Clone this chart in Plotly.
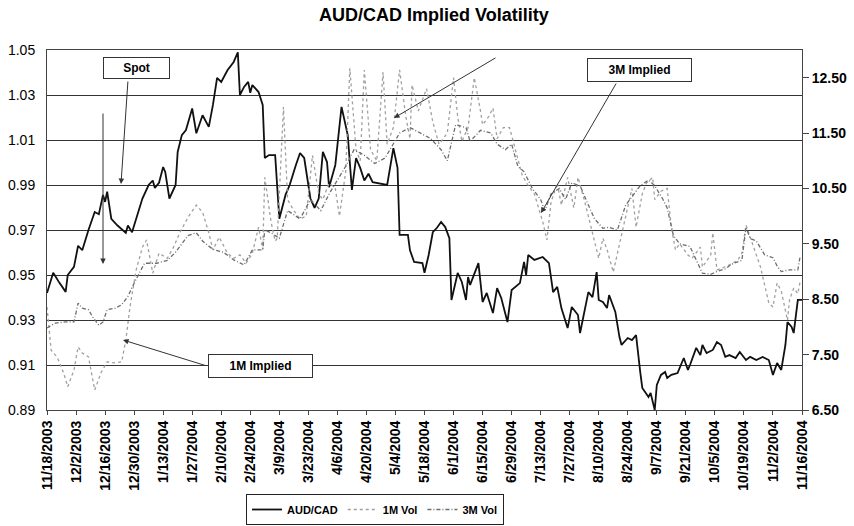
import pandas as pd
import plotly.graph_objects as go

# ---- data -------------------------------------------------------------
START = pd.Timestamp("2003-11-18")

# AUD/CAD spot: days after 11/18/2003 and level
spot_days = [0, 3, 6, 9, 10, 13, 15, 17, 20, 23, 25, 27, 28, 29, 31, 34, 38, 39, 41, 43,
             46, 49, 51, 52, 54, 56, 57, 59, 62, 63, 65, 67, 70, 72, 74, 75, 78, 80, 82, 84,
             87, 90, 92, 93, 95, 97, 98, 99, 102, 104, 105, 107, 110, 112, 115, 117, 120, 122, 124, 127,
             129, 131, 133, 135, 136, 139, 142, 145, 147, 149, 151, 153, 155, 157, 164, 167, 169, 170, 174, 175,
             177, 181, 182, 184, 186, 188, 190, 192, 194, 195, 198, 200, 202, 203, 204, 208, 210, 212, 215, 217,
             219, 222, 224, 228, 230, 231, 232, 235, 239, 242, 244, 246, 248, 251, 253, 256, 257, 258, 261, 263,
             265, 266, 268, 270, 271, 274, 276, 277, 280, 282, 284, 286, 287, 290, 291, 293, 294, 296, 298, 299,
             301, 304, 307, 309, 310, 313, 315, 316, 318, 321, 323, 325, 327, 329, 332, 334, 337, 339, 342, 345,
             348, 350, 352, 354, 356, 357, 359, 360, 362, 364]
spot = [0.942, 0.951, 0.9465, 0.9425, 0.950, 0.9536, 0.963, 0.961, 0.970, 0.978, 0.977, 0.9856, 0.9825, 0.987, 0.975, 0.972, 0.9687, 0.972, 0.969, 0.975,
        0.984, 0.990, 0.992, 0.9887, 0.991, 0.998, 0.9958, 0.984, 0.990, 1.0047, 1.0122, 1.0144, 1.024, 1.013, 1.018, 1.021, 1.0158, 1.0256, 1.0376, 1.0358,
        1.041, 1.0447, 1.049, 1.030, 1.0336, 1.0358, 1.031, 1.0344, 1.0313, 1.0256, 1.002, 1.0033, 1.0033, 0.975, 0.9856, 0.990, 0.9989, 1.0042, 1.002, 0.984,
        0.9798, 0.984, 1.0047, 1.0002, 0.989, 0.9989, 1.0247, 1.0122, 0.9878, 1.002, 0.9976, 0.992, 0.995, 0.9913, 0.990, 1.0064, 0.9976, 0.9678, 0.9678, 0.961,
        0.9558, 0.9553, 0.951, 0.9589, 0.969, 0.971, 0.9736, 0.9713, 0.9664, 0.9389, 0.9509, 0.9469, 0.9389, 0.9491, 0.9456, 0.9553, 0.938, 0.942, 0.9331, 0.9442,
        0.9398, 0.9291, 0.9433, 0.9464, 0.9558, 0.950, 0.9589, 0.9567, 0.958, 0.9553, 0.9424, 0.9447, 0.9353, 0.9264, 0.9358, 0.9322, 0.9242, 0.9291, 0.9424, 0.9402,
        0.9513, 0.9389, 0.938, 0.9353, 0.9411, 0.9336, 0.9224, 0.9189, 0.922, 0.9211, 0.9233, 0.9069, 0.8998, 0.8958, 0.8976, 0.890, 0.9011, 0.9056, 0.9069, 0.9042,
        0.9056, 0.9064, 0.9131, 0.9078, 0.910, 0.9176, 0.9144, 0.9189, 0.9153, 0.9167, 0.9202, 0.9189, 0.9136, 0.9144, 0.9131, 0.9158, 0.9122, 0.9136, 0.9122, 0.9136,
        0.9122, 0.9056, 0.9109, 0.9078, 0.9189, 0.9291, 0.9269, 0.9242, 0.9389, 0.9389]

# 1-month implied volatility (%)
vol1m_days = [0, 2, 5, 8, 10, 13, 15, 17, 20, 23, 26, 29, 32, 36, 38, 40, 43, 46, 48, 51,
              54, 58, 61, 64, 68, 72, 75, 78, 80, 83, 87, 90, 93, 96, 99, 102, 104, 105, 108, 110,
              111, 114, 116, 119, 122, 125, 128, 131, 133, 136, 139, 141, 144, 146, 149, 151, 153, 156, 159, 162,
              164, 167, 170, 173, 175, 176, 179, 183, 186, 189, 193, 196, 198, 200, 203, 206, 209, 210, 213, 215,
              217, 220, 223, 226, 229, 232, 235, 239, 241, 243, 246, 248, 251, 254, 256, 259, 263, 266, 268, 270,
              273, 276, 280, 282, 284, 287, 289, 292, 293, 296, 299, 301, 303, 305, 309, 311, 315, 316, 320, 321,
              323, 328, 333, 335, 337, 340, 344, 348, 350, 352, 354, 357, 358, 360, 362, 363]
vol_1m = [8.36, 7.58, 7.45, 7.17, 6.92, 7.22, 7.64, 7.53, 7.46, 6.86, 7.17, 7.37, 7.35, 7.37, 7.76, 8.36, 9.03, 9.44, 9.57, 8.97,
          9.33, 9.24, 9.44, 9.70, 9.98, 10.20, 10.07, 9.70, 9.39, 9.62, 9.33, 9.24, 9.30, 9.15, 9.33, 9.80, 9.40, 10.70, 9.90, 9.55,
          9.60, 11.97, 10.30, 10.10, 9.95, 10.00, 11.10, 10.40, 10.30, 10.60, 10.50, 10.00, 10.80, 12.67, 11.20, 11.00, 12.64, 11.20, 11.00, 12.60,
          11.30, 11.60, 12.64, 11.80, 11.40, 12.37, 11.90, 12.30, 11.70, 11.30, 11.50, 12.50, 11.80, 11.35, 11.60, 12.50, 11.90, 11.65, 11.80, 11.95,
          11.40, 11.60, 11.60, 11.20, 10.75, 10.55, 10.40, 9.90, 9.57, 10.25, 10.60, 10.20, 10.70, 10.15, 10.70, 10.30, 9.70, 9.24, 9.60, 9.40,
          8.99, 9.50, 10.17, 10.50, 9.80, 10.40, 10.60, 10.70, 10.30, 10.45, 10.50, 9.80, 9.39, 9.50, 9.30, 9.24, 9.44, 9.08, 9.30, 9.70,
          9.03, 9.10, 9.20, 9.33, 9.84, 9.50, 9.08, 8.43, 8.36, 8.79, 8.65, 8.12, 8.49, 8.70, 8.60, 8.80]

# 3-month implied volatility (%)
vol3m_days = [0, 4, 9, 13, 15, 17, 20, 22, 25, 27, 29, 33, 36, 39, 42, 47, 53, 58, 62, 68,
              72, 75, 80, 85, 90, 95, 99, 104, 105, 108, 112, 116, 122, 127, 132, 136, 144, 148, 153, 158,
              163, 167, 170, 175, 180, 185, 190, 193, 197, 202, 204, 209, 214, 217, 221, 224, 227, 230, 234, 238,
              240, 243, 247, 250, 253, 257, 261, 264, 268, 271, 275, 279, 282, 286, 290, 293, 297, 299, 302, 305,
              310, 313, 316, 320, 323, 327, 331, 335, 337, 339, 342, 346, 350, 352, 354, 358, 362, 363]
vol_3m = [7.98, 8.07, 8.09, 8.09, 8.43, 8.34, 8.31, 8.18, 8.03, 8.09, 8.31, 8.34, 8.40, 8.55, 8.79, 9.15, 9.15, 9.20, 9.35, 9.65,
          9.70, 9.55, 9.40, 9.35, 9.21, 9.12, 9.39, 9.39, 9.75, 9.70, 9.60, 10.10, 9.95, 10.30, 10.10, 10.40, 10.90, 11.20, 11.10, 10.95,
          11.05, 11.30, 11.50, 11.60, 11.50, 11.40, 11.20, 11.00, 11.65, 11.60, 11.35, 11.55, 11.50, 11.30, 11.20, 11.30, 10.90, 10.80, 10.50, 10.30,
          10.10, 10.40, 10.50, 10.30, 10.60, 10.55, 10.20, 9.95, 9.78, 9.80, 9.75, 10.20, 10.35, 10.55, 10.65, 10.55, 10.30, 10.15, 9.65, 9.50,
          9.45, 9.20, 8.97, 8.95, 9.00, 9.05, 9.15, 9.20, 9.80, 9.60, 9.55, 9.30, 9.25, 9.10, 9.00, 9.03, 9.03, 9.25]

tick_labels = ["11/18/2003", "12/2/2003", "12/16/2003", "12/30/2003", "1/13/2004", "1/27/2004",
               "2/10/2004", "2/24/2004", "3/9/2004", "3/23/2004", "4/6/2004", "4/20/2004",
               "5/4/2004", "5/18/2004", "6/1/2004", "6/15/2004", "6/29/2004", "7/13/2004",
               "7/27/2004", "8/10/2004", "8/24/2004", "9/7/2004", "9/21/2004", "10/5/2004",
               "10/19/2004", "11/2/2004", "11/16/2004"]
spot_ticks = [0.89, 0.91, 0.93, 0.95, 0.97, 0.99, 1.01, 1.03, 1.05]
vol_ticks = [6.5, 7.5, 8.5, 9.5, 10.5, 11.5, 12.5]


def to_dates(days):
    return START + pd.to_timedelta(days, unit="D")


tick_dates = pd.to_datetime(tick_labels, format="%m/%d/%Y")

# ---- figure -----------------------------------------------------------
W, H = 854, 526
ML, MR, MT, MB = 47, 52, 50, 116
PW, PH = W - ML - MR, H - MT - MB


def paper(px, py):
    """Pixel position on the canvas -> paper coordinates of the plot frame."""
    return (px - ML) / PW, (H - MB - py) / PH


fig = go.Figure()
fig.add_trace(go.Scatter(x=to_dates(vol1m_days), y=vol_1m, name="1M Vol", yaxis="y2",
                         mode="lines", legendrank=2,
                         line=dict(color="#a0a0a0", width=1.3, dash="dot")))
fig.add_trace(go.Scatter(x=to_dates(vol3m_days), y=vol_3m, name="3M Vol", yaxis="y2",
                         mode="lines", legendrank=3,
                         line=dict(color="#6e6e6e", width=1.3, dash="4px,2px,1px,2px")))
fig.add_trace(go.Scatter(x=to_dates(spot_days), y=spot, name="AUD/CAD",
                         mode="lines", legendrank=1,
                         line=dict(color="#111111", width=1.8)))

# call-out boxes (centre x, centre y, width, height in canvas pixels)
boxes = [("Spot", 136.5, 68, 63, 18), ("3M Implied", 639.5, 70, 101, 20),
         ("1M Implied", 260.5, 365.5, 101, 20)]
for text, cx, cy, bw, bh in boxes:
    x, y = paper(cx, cy)
    fig.add_annotation(x=x, y=y, xref="paper", yref="paper", text=f"<b>{text}</b>",
                       xanchor="center", yanchor="middle",
                       showarrow=False, width=bw, height=bh, borderpad=1,
                       bgcolor="white", bordercolor="#333", borderwidth=1,
                       font=dict(size=12, color="black"))

# arrows: (tail x, tail y, head x, head y) in canvas pixels
arrows = [(128, 80, 121, 184), (103, 112, 103, 264), (207, 366, 123, 340),
          (497, 57, 394, 118), (617, 82, 541, 213)]
for tx, ty, hx, hy in arrows:
    x, y = paper(hx, hy)
    fig.add_annotation(x=x, y=y, xref="paper", yref="paper", text="",
                       showarrow=True, ax=tx - hx, ay=ty - hy,
                       arrowhead=2, arrowsize=1.1, arrowwidth=1, arrowcolor="#333")

fig.update_layout(
    width=W, height=H,
    margin=dict(l=ML, r=MR, t=MT, b=MB, autoexpand=False),
    paper_bgcolor="white", plot_bgcolor="white",
    font=dict(family="Arial, 'Liberation Sans', sans-serif", color="black"),
    title=dict(text="<b>AUD/CAD Implied Volatility</b>", x=0.508, xanchor="center",
               y=1 - 15 / H, yanchor="middle", font=dict(size=18)),
    xaxis=dict(type="date", range=[tick_dates[0], tick_dates[-1]],
               tickvals=tick_dates, ticktext=tick_labels, tickangle=-90,
               ticks="outside", ticklen=4, tickcolor="#444",
               showline=True, linecolor="#444", mirror=True, showgrid=False,
               automargin=False, tickfont=dict(size=14, weight="bold")),
    yaxis=dict(range=[0.89, 1.05], tickvals=spot_ticks, tickformat=".2f",
               showgrid=True, gridcolor="#333", gridwidth=1, zeroline=False,
               showline=True, linecolor="#444", ticks="outside", ticklen=8,
               tickcolor="rgba(0,0,0,0)", automargin=False, tickfont=dict(size=14)),
    yaxis2=dict(overlaying="y", side="right", range=[6.5, 13.0], tickvals=vol_ticks,
                tickformat=".2f", showgrid=False, zeroline=False,
                showline=True, linecolor="#444", ticks="outside", ticklen=6,
                tickcolor="#444", automargin=False,
                tickfont=dict(size=14, weight="bold")),
    legend=dict(orientation="h", x=paper(375, 0)[0], xanchor="center",
                y=paper(0, 494)[1], yanchor="top",
                bordercolor="#222", borderwidth=1, bgcolor="white",
                font=dict(size=11, weight="bold"), tracegroupgap=0),
    showlegend=True,
)

fig.write_html("out.html")
